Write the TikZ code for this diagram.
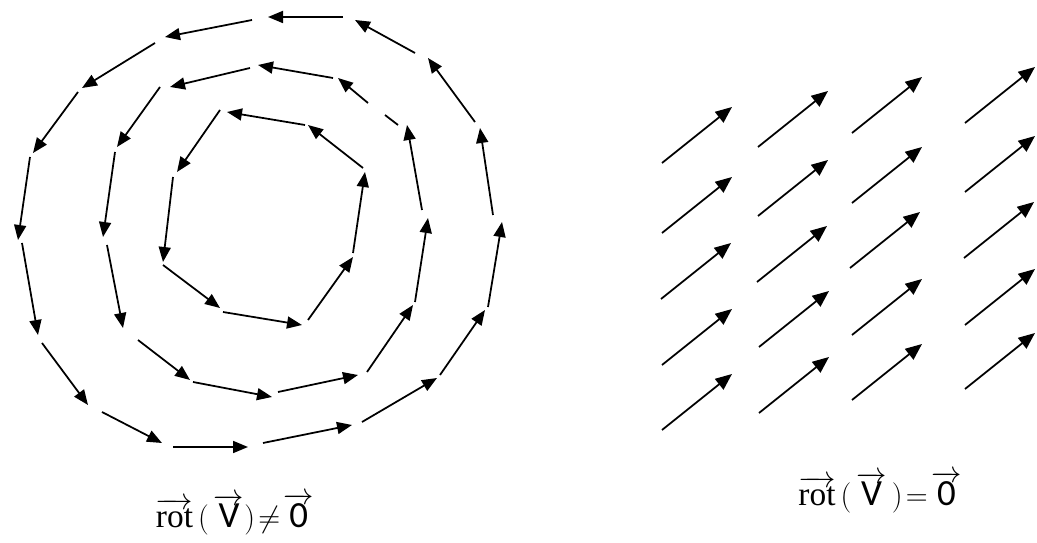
\documentclass[tikz,border=0pt]{standalone}
\usepackage{fontspec}
\newfontfamily\lblfont{Carlito}
\newfontfamily\rotfont{Liberation Serif}
\usetikzlibrary{arrows.meta}

\begin{document}
\begin{tikzpicture}[
    x=0.02cm, y=-0.02cm,
    vec/.style={-{Triangle[length=0.3cm, width=0.24cm]}, line width=1pt},
    fvec/.style={-{Triangle[length=0.33cm, width=0.27cm]}, line width=1pt},
    lbl/.style={font=\fontsize{17}{19}\selectfont, inner sep=0pt, anchor=base}
]
\useasboundingbox (0,0) rectangle (1037,543);

% outer ring
\foreach \a/\b/\c/\d in {343/17/268/17, 252/20/165/37, 155/43/82/88, 78/92/33/153,
    30/157/18/240, 22/243/38/335, 42/343/88/405, 102/412/162/443,
    173/447/248/447, 263/443/352/425, 362/422/437/378, 440/375/485/310,
    488/307/502/222, 493/215/480/128, 475/122/428/58, 415/53/355/20}
  \draw[vec] (\a,\b) -- (\c,\d);

% middle ring
\foreach \a/\b/\c/\d in {333/78/258/65, 250/68/170/87, 160/87/117/147, 115/152/103/237,
    107/245/123/328, 138/340/190/380, 193/382/272/397, 278/392/358/375,
    367/372/413/305, 415/302/428/218, 422/210/407/125, 368/103/338/78}
  \draw[vec] (\a,\b) -- (\c,\d);
\draw[line width=1pt] (385,115) -- (398,125);

% inner ring
\foreach \a/\b/\c/\d in {305/125/227/112, 220/110/177/172, 173/177/163/262, 163/265/220/308,
    223/312/302/325, 308/320/353/257, 353/253/365/172, 363/168/308/125}
  \draw[vec] (\a,\b) -- (\c,\d);

% uniform field
\foreach \x/\y in {662/163, 662/233, 661/299, 662/365, 662/430,
    758/147, 758/216, 757/282, 759/347, 759/413,
    852/133, 852/203, 850/268, 852/335, 852/400,
    965/123, 965/192, 964/258, 965/325, 965/389}
  \draw[fvec] (\x,\y) -- ++(70,-56);

\node[lbl] (curl) at (235,527) {$\overrightarrow{\mbox{\rotfont\fontsize{19}{20}\selectfont rot}}\,(\,\overrightarrow{\mbox{\lblfont\fontsize{21}{22}\selectfont V}})\!\neq\!\overrightarrow{\mbox{\lblfont\fontsize{21}{22}\selectfont 0}}$};
\node[lbl] (nocurl) at (880,505) {$\overrightarrow{\mbox{\rotfont\fontsize{19}{20}\selectfont rot}}\,(\,\overrightarrow{\mbox{\lblfont\fontsize{21}{22}\selectfont V}}\,)\!=\!\overrightarrow{\mbox{\lblfont\fontsize{21}{22}\selectfont 0}}$};
\end{tikzpicture}
\end{document}
